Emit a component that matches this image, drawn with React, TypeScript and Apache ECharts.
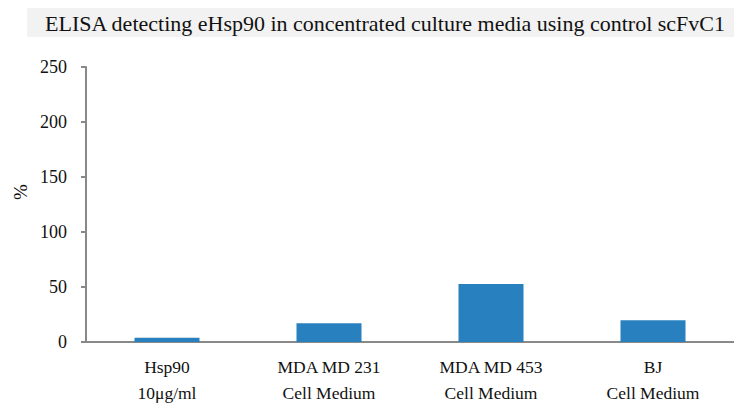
import React, { useEffect, useRef } from "react";
import * as echarts from "echarts";

const categories = ["Hsp90\n10μg/ml", "MDA MD 231\nCell Medium", "MDA MD 453\nCell Medium", "BJ\nCell Medium"];
const values = [3.9, 17, 52.7, 19.7];
const yTicks = { min: 0, max: 250, interval: 50 };
const titleText = "ELISA detecting eHsp90 in concentrated culture media using control scFvC1";
const yName = "%";

const FONT = "Liberation Serif";

export default function App() {
  const ref = useRef<HTMLDivElement>(null);
  useEffect(() => {
    if (!ref.current) return;
    document.body.style.margin = "0";
    document.body.style.overflow = "hidden";
    document.documentElement.style.overflow = "hidden";
    const chart = echarts.init(ref.current, null, { renderer: "svg" });
    chart.setOption({
      animation: false,
      backgroundColor: "#ffffff",
      textStyle: { fontFamily: FONT },
      title: {
        text: titleText,
        left: 27,
        top: 8,
        padding: [4, 60, 3, 18],
        backgroundColor: "#f2f2f2",
        textStyle: { fontFamily: FONT, fontSize: 22, fontWeight: "normal", color: "#111111" },
      },
      grid: {
        left: 86,
        top: 67,
        right: 0,
        height: 275,
        containLabel: false,
        outerBoundsMode: "none",
      },
      xAxis: {
        type: "category",
        data: categories,
        axisLine: { lineStyle: { color: "#898989", width: 2 } },
        axisTick: { show: false },
        axisLabel: {
          fontFamily: FONT,
          fontSize: 17.5,
          color: "#111111",
          lineHeight: 26,
          margin: 12,
          interval: 0,
        },
      },
      yAxis: {
        type: "value",
        min: yTicks.min,
        max: yTicks.max,
        interval: yTicks.interval,
        axisLine: { show: true, lineStyle: { color: "#898989", width: 2 } },
        axisTick: { show: true, length: 5, lineStyle: { color: "#898989", width: 2 } },
        splitLine: { show: false },
        axisLabel: { fontFamily: FONT, fontSize: 18, color: "#111111", margin: 19 },
      },
      graphic: [
        {
          type: "text",
          x: 20,
          y: 192,
          rotation: Math.PI / 2,
          style: {
            text: yName,
            fontFamily: FONT,
            fontSize: 19,
            fill: "#111111",
            textAlign: "center",
            textVerticalAlign: "middle",
          },
        },
      ],
      series: [
        {
          type: "bar",
          data: values,
          barWidth: 65,
          itemStyle: { color: "#2980BF" },
        },
      ],
    });
    return () => chart.dispose();
  }, []);
  return (
    <div
      ref={ref}
      style={{ position: "fixed", left: 0, top: 0, width: 734, height: 405, overflow: "hidden" }}
    />
  );
}
